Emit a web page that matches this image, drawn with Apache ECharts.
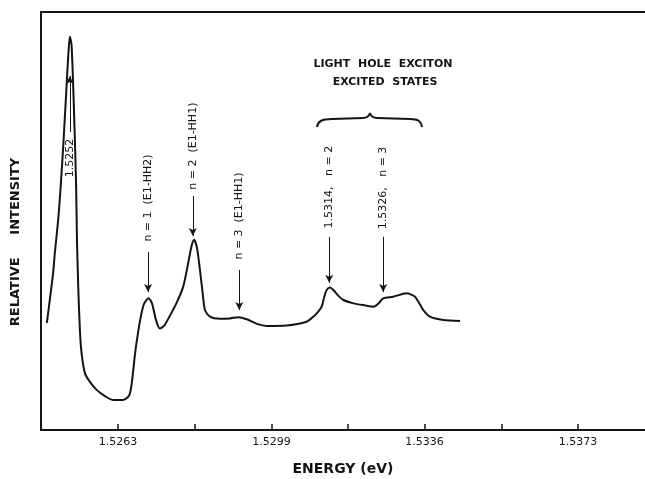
<!DOCTYPE html>
<html>
<head>
<meta charset="utf-8">
<script src="https://cdn.jsdelivr.net/npm/echarts@6/dist/echarts.min.js"></script>
<style>
	html, body { margin: 0; padding: 0; background: #fff; }
	#chart { width: 645px; height: 479px; }
</style>
</head>
<body>
<div id="chart"></div>
<script>
// photoluminescence trace (energy in eV, intensity in arbitrary units 0..100)
var energy = [
	1.52460, 1.52467, 1.52475, 1.52479, 1.52487, 1.52493, 1.52500, 1.52507, 1.52512, 1.52515,
	1.52519, 1.52523, 1.52527, 1.52530, 1.52532, 1.52535, 1.52539, 1.52543, 1.52551, 1.52563,
	1.52579, 1.52599, 1.52618, 1.52642, 1.52654, 1.52659, 1.52664, 1.52671, 1.52679, 1.52685,
	1.52692, 1.52703, 1.52711, 1.52721, 1.52730, 1.52740, 1.52754, 1.52771, 1.52786, 1.52798,
	1.52806, 1.52812, 1.52819, 1.52826, 1.52833, 1.52838, 1.52850, 1.52874, 1.52898, 1.52918,
	1.52938, 1.52962, 1.52986, 1.53033, 1.53081, 1.53097, 1.53108, 1.53117, 1.53123, 1.53129,
	1.53137, 1.53145, 1.53156, 1.53169, 1.53193, 1.53221, 1.53241, 1.53253, 1.53264, 1.53288,
	1.53320, 1.53331, 1.53340, 1.53350, 1.53360, 1.53376, 1.53408, 1.53448
];
var intensity = [
	25.6, 31.1, 37.6, 42.3, 50.2, 58.2, 69.4, 82.1, 90.9, 94.1,
	92.1, 82.1, 69.4, 58.2, 45.5, 34.3, 23.9, 18.4, 13.6, 11.5,
	9.6, 8.1, 7.2, 7.2, 7.9, 8.9, 12.0, 18.4, 23.9, 27.3,
	30.1, 31.5, 30.4, 26.3, 24.3, 24.9, 27.3, 30.6, 34.3, 40.0,
	44.0, 45.5, 43.5, 38.3, 32.3, 28.7, 27.1, 26.6, 26.7, 27.0,
	26.5, 25.4, 24.9, 25.0, 25.9, 27.1, 28.2, 29.5, 31.8, 33.5,
	34.1, 33.5, 32.2, 31.1, 30.3, 29.8, 29.5, 30.3, 31.5, 31.9,
	32.7, 32.4, 31.9, 30.4, 28.7, 27.1, 26.3, 26.1
];

// x axis: tick marks and the printed labels
var tickValues = [1.52630, 1.52813, 1.52997, 1.53180, 1.53363, 1.53547, 1.53730];
var labelValues = [1.52630, 1.52997, 1.53363, 1.53730];
var tickLabels = ['1.5263', '1.5299', '1.5336', '1.5373'];

// peak annotations: rotated text + arrow (energy, text centre, arrow start, arrow end)
var noteTexts = ['1.5252', 'n = 1  (E1-HH2)', 'n = 2  (E1-HH1)', 'n = 3  (E1-HH1)', '1.5314,   n = 2', '1.5326,   n = 3'];
var noteEnergy = [1.52515, 1.52702, 1.52809, 1.52920, 1.53135, 1.53264];
var noteTextAt = [65.1, 55.5, 67.9, 51.2, 58.1, 57.9];
var noteArrowFrom = [71.3, 42.6, 56.0, 38.3, 46.2, 46.2];
var noteArrowTo = [84.7, 33.0, 46.4, 28.7, 35.2, 33.0];

var xMin = 1.52446, xMax = 1.53890;
var FONT = 'DejaVu Sans';
var INK = '#141414';

var chart = echarts.init(document.getElementById('chart'));

var lineData = energy.map(function (e, i) { return [e, intensity[i]]; });
var arrows = noteEnergy.map(function (e, i) {
	return [{ coord: [e, noteArrowFrom[i]], symbol: 'none' }, { coord: [e, noteArrowTo[i]], symbol: 'arrow' }];
});

chart.setOption({
	backgroundColor: '#fff',
	animation: false,
	grid: { left: 41, right: 0, top: 12, bottom: 49, outerBoundsMode: 'none' },
	xAxis: [{
		type: 'value', min: xMin, max: xMax,
		name: 'ENERGY (eV)', nameLocation: 'middle', nameGap: 32,
		nameTextStyle: { fontFamily: FONT, fontSize: 14, fontWeight: 'bold', color: INK },
		axisLine: { lineStyle: { color: INK, width: 2 } },
		axisTick: { inside: true, length: 6, customValues: tickValues, lineStyle: { color: INK, width: 1.5 } },
		axisLabel: {
			customValues: labelValues, margin: 7, fontFamily: FONT, fontSize: 11, color: INK,
			formatter: function (v) {
				for (var i = 0; i < labelValues.length; i++) {
					if (Math.abs(labelValues[i] - v) < 1e-6) return tickLabels[i];
				}
				return '';
			}
		},
		splitLine: { show: false }
	}, {
		type: 'value', position: 'top', min: xMin, max: xMax,
		axisLine: { lineStyle: { color: INK, width: 2 } },
		axisTick: { show: false }, axisLabel: { show: false }, splitLine: { show: false }
	}],
	yAxis: {
		type: 'value', min: 0, max: 100,
		axisLine: { show: true, lineStyle: { color: INK, width: 2 } },
		axisTick: { show: false }, axisLabel: { show: false }, splitLine: { show: false }
	},
	series: [{
		type: 'line',
		data: lineData,
		showSymbol: false,
		smooth: 0.25,
		lineStyle: { color: INK, width: 2 },
		markLine: {
			silent: true,
			symbolSize: [6, 8],
			label: { show: false },
			lineStyle: { color: INK, width: 1, type: 'solid' },
			data: arrows
		}
	}]
});

// rotated annotation texts placed from data coordinates
var graphics = noteTexts.map(function (t, i) {
	var p = chart.convertToPixel({ gridIndex: 0 }, [noteEnergy[i], noteTextAt[i]]);
	return {
		type: 'text', x: p[0], y: p[1], rotation: Math.PI / 2,
		style: { text: t, align: 'center', verticalAlign: 'middle', font: '11px "' + FONT + '"', fill: INK }
	};
});
graphics.push({
	type: 'text', x: 16, y: 242, rotation: Math.PI / 2,
	style: { text: 'RELATIVE     INTENSITY', align: 'center', verticalAlign: 'middle', font: 'bold 13px "' + FONT + '"', fill: INK }
});
graphics.push({
	type: 'text', x: 383, y: 64,
	style: { text: 'LIGHT  HOLE  EXCITON', align: 'center', verticalAlign: 'middle', font: 'bold 11px "' + FONT + '"', fill: INK }
});
graphics.push({
	type: 'text', x: 385, y: 82,
	style: { text: 'EXCITED  STATES', align: 'center', verticalAlign: 'middle', font: 'bold 11px "' + FONT + '"', fill: INK }
});
// curly brace over the light hole states
var braceStyle = { stroke: INK, lineWidth: 2, fill: null };
graphics.push(
	{ type: 'bezierCurve', shape: { x1: 317, y1: 127, x2: 332, y2: 119, cpx1: 318, cpy1: 121, cpx2: 322, cpy2: 119 }, style: braceStyle },
	{ type: 'line', shape: { x1: 332, y1: 119, x2: 363, y2: 118 }, style: braceStyle },
	{ type: 'bezierCurve', shape: { x1: 363, y1: 118, x2: 370, y2: 113, cpx1: 367, cpy1: 118, cpx2: 369, cpy2: 116 }, style: braceStyle },
	{ type: 'bezierCurve', shape: { x1: 370, y1: 113, x2: 377, y2: 118, cpx1: 371, cpy1: 116, cpx2: 373, cpy2: 118 }, style: braceStyle },
	{ type: 'line', shape: { x1: 377, y1: 118, x2: 410, y2: 119 }, style: braceStyle },
	{ type: 'bezierCurve', shape: { x1: 410, y1: 119, x2: 422, y2: 127, cpx1: 418, cpy1: 119, cpx2: 421, cpy2: 121 }, style: braceStyle }
);
chart.setOption({ graphic: graphics });
</script>
</body>
</html>
